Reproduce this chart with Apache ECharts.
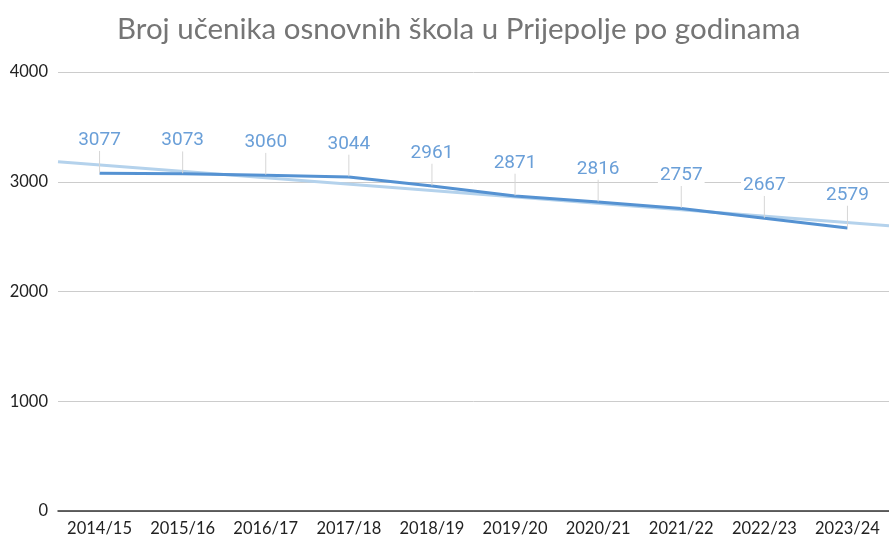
<!DOCTYPE html>
<html>
<head>
<meta charset="utf-8">
<script src="https://cdn.jsdelivr.net/npm/echarts@6/dist/echarts.min.js"></script>
<style>
	html, body { margin: 0; padding: 0; background: #fff; }
	#chart { width: 889px; height: 537px; }
</style>
</head>
<body>
<div id="chart"></div>
<script>
// school years and pupil counts
const years = ['2014/15', '2015/16', '2016/17', '2017/18', '2018/19', '2019/20', '2020/21', '2021/22', '2022/23', '2023/24']
const pupils = [3077, 3073, 3060, 3044, 2961, 2871, 2816, 2757, 2667, 2579]
// trend line: value at left edge and at right edge of the plot
const trendX = [-0.5, 9.5]
const trendY = [3182, 2599]
const yTicks = [0, 1000, 2000, 3000, 4000]

const chart = echarts.init(document.getElementById('chart'))
const option = {
	animation: false,
	title: {
		text: 'Broj učenika osnovnih škola u Prijepolje po godinama',
		left: 112,
		top: 9,
		textStyle: { fontFamily: 'Lato', fontSize: 29.5, fontWeight: 'normal', color: '#757575' },
	},
	grid: { left: 58, right: -9, top: 72, bottom: 26 },
	xAxis: [
		{
			type: 'category',
			data: years,
			axisLine: { lineStyle: { color: '#333', width: 1.5 } },
			axisTick: { show: false },
			axisLabel: { color: '#222', fontFamily: 'Lato', fontSize: 16.5, margin: 9, interval: 0 },
		},
		{
			type: 'value',
			min: trendX[0],
			max: 9.5,
			show: false,
		},
	],
	yAxis: {
		type: 'value',
		min: yTicks[0],
		max: yTicks[yTicks.length - 1],
		interval: 1000,
		axisLine: { show: false },
		axisTick: { show: false },
		axisLabel: { color: '#222', fontFamily: 'Lato', fontSize: 16.5, margin: 10, formatter: v => String(v) },
		splitLine: { lineStyle: { color: '#cccccc', width: 1 } },
	},
	series: [
		{
			name: 'trend',
			type: 'line',
			xAxisIndex: 1,
			data: trendX.map((x, i) => [x, trendY[i]]),
			symbol: 'none',
			lineStyle: { color: '#b4d2ec', width: 3 },
			z: 1,
		},
		{
			name: 'učenici',
			type: 'line',
			data: pupils,
			symbol: 'circle',
			symbolSize: 1,
			itemStyle: { color: 'rgba(0,0,0,0)', borderWidth: 0 },
			lineStyle: { color: '#5592d2', width: 3 },
			z: 2,
			label: {
				show: true,
				position: 'top',
				distance: 0,
				color: '#6a9fd8',
				fontFamily: 'Roboto',
				fontSize: 19,
				backgroundColor: '#fff',
				padding: [1, 2],
			},
			labelLayout: { dy: -22 },
			labelLine: { show: true, lineStyle: { color: '#d6d6d6', width: 1 } },
		},
	],
}
chart.setOption(option)
</script>
</body>
</html>
